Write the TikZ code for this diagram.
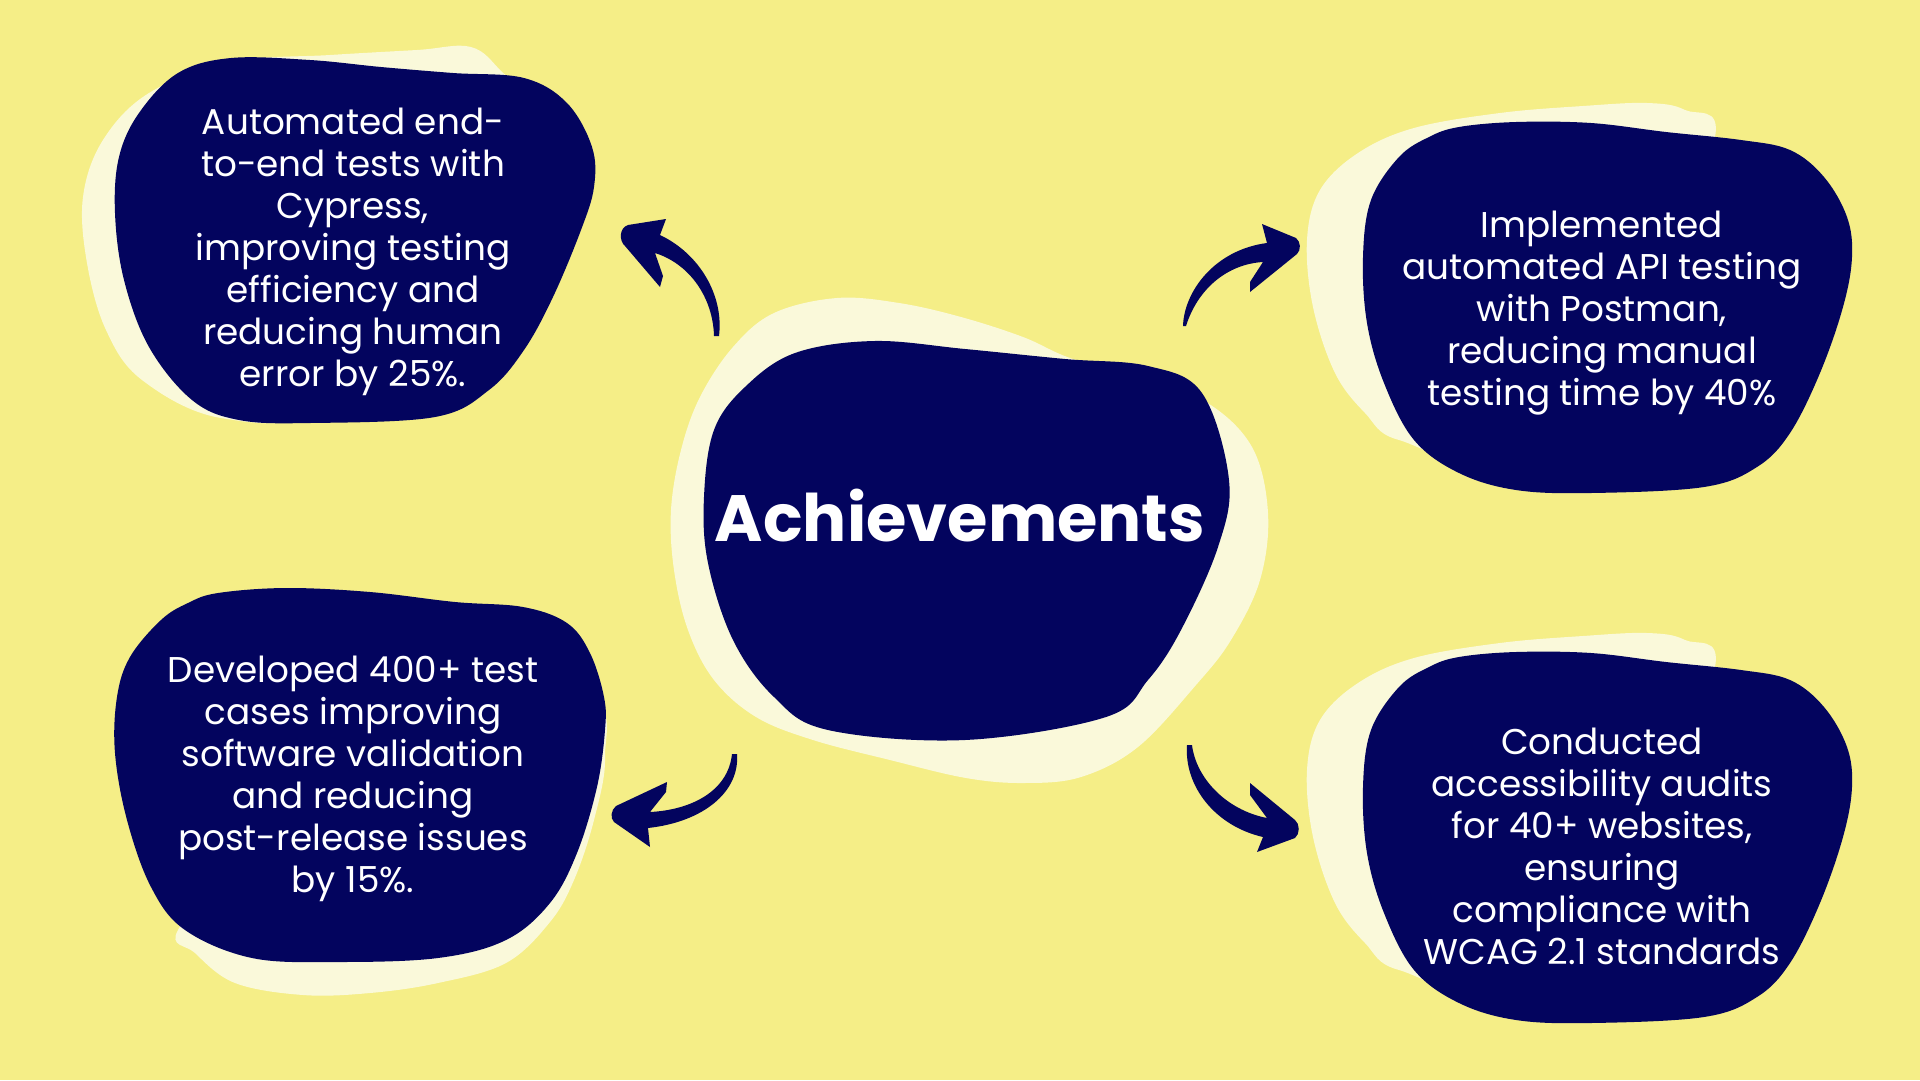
\documentclass[tikz,border=0pt]{standalone}
\usepackage{fontspec}
\setmainfont{Poppins}
\definecolor{bgyellow}{RGB}{245,238,135}
\definecolor{navy}{RGB}{3,4,94}
\definecolor{cream}{RGB}{250,249,218}
\begin{document}
\begin{tikzpicture}[x=1pt,y=-1pt,
  backdrop/.style={fill=cream},
  blob/.style={fill=navy},
  arrowshape/.style={fill=navy},
  body/.style={text=white, align=center, inner sep=0pt, font=\fontsize{35.8}{42}\selectfont},
  title/.style={text=white, inner sep=0pt, font=\fontsize{65.5}{75}\selectfont\bfseries}]

% background
\fill[bgyellow] (0,0) rectangle (1920,1080);
\useasboundingbox (0,0) rectangle (1920,1080);

% ---- centre blob ----
\fill[backdrop] plot[smooth cycle, tension=0.6] coordinates {
  (837,298) (899,303) (961,317) (1023,337) (1070,358) (1140,378) (1206,402)
  (1252,447) (1268,513) (1260,580) (1231,640) (1196,685) (1138,747) (1081,777)
  (1024,783) (966,778) (890,760) (813,740) (756,717) (714,680) (688,630)
  (674,570) (671,510) (681,450) (700,397) (733,347) (774,313)};
\fill[blob] plot[smooth cycle, tension=0.6] coordinates {
  (874,341) (965,349) (1065,359) (1148,366) (1202,393) (1229,480) (1218,547)
  (1181,630) (1148,680) (1106,717) (965,740) (828,730) (774,697) (733,640)
  (708,563) (704,497) (714,430) (745,387) (795,353)};
\node[title] (hub) at (960,516) {Achievements};

% ---- top-left blob ----
\fill[backdrop] plot[smooth cycle, tension=0.6] coordinates {
  (221,418) (142,380) (106,330) (87,263) (83,197) (103,140) (149,93) (230,62)
  (330,55) (417,50) (471,47) (503,73) (545,120) (480,300) (330,410)};
\fill[blob] plot[smooth cycle, tension=0.6] coordinates {
  (231,58) (310,60) (381,67) (453,73) (524,78) (567,103) (592,147) (594,187)
  (581,230) (553,297) (524,350) (489,390) (435,417) (310,423) (239,420)
  (192,400) (149,347) (124,280) (115,213) (119,157) (139,113) (178,73)};
\node[body] (cypress) at (353,252) {Automated end-\\to-end tests with\\Cypress,\\improving testing\\efficiency and\\reducing human\\error by 25\%.};

% ---- bottom-left blob ----
\fill[backdrop] plot[smooth cycle, tension=0.6] coordinates {
  (178,930) (195,953) (235,983) (303,995) (370,993) (438,983) (506,963)
  (550,922) (574,880) (594,820) (605,757) (590,700) (450,700) (250,850)};
\fill[blob] plot[smooth cycle, tension=0.6] coordinates {
  (218,593) (286,588) (370,592) (455,602) (523,607) (567,623) (590,653)
  (604,697) (605,730) (597,787) (577,853) (550,903) (506,940) (438,958)
  (337,962) (252,958) (185,930) (151,887) (127,820) (115,753) (117,697)
  (130,657) (161,620) (188,603)};
\node[body] (cases) at (353,779) {Developed 400+ test\\cases improving\\software validation\\and reducing\\post-release issues\\by 15\%.};

% ---- right-hand blobs share one outline ----
\foreach \dy in {0,530} {
  \begin{scope}[shift={(0,\dy)}]
    \fill[backdrop] plot[smooth cycle, tension=0.6] coordinates {
      (1399,440) (1365,413) (1335,373) (1313,307) (1307,240) (1320,190)
      (1358,153) (1414,128) (1500,113) (1583,106) (1647,103) (1685,110)
      (1715,137) (1650,300) (1500,450)};
    \fill[blob] plot[smooth cycle, tension=0.6] coordinates {
      (1459,127) (1516,122) (1591,123) (1666,132) (1741,140) (1790,150)
      (1824,177) (1847,217) (1852,257) (1843,307) (1820,373) (1790,433)
      (1757,467) (1704,487) (1591,493) (1516,490) (1459,473) (1414,440)
      (1384,383) (1367,323) (1363,257) (1371,200) (1399,157) (1429,137)};
  \end{scope}
}
\node[body] (postman) at (1602,313) {Implemented\\automated API testing\\with Postman,\\reducing manual\\testing time by 40\%};
\node[body] (wcag) at (1602,846) {Conducted\\accessibility audits\\for 40+ websites,\\ensuring\\compliance with\\WCAG 2.1 standards};

% ---- curved arrows ----
% up-left
\fill[arrowshape] (719,336) .. controls (724,296) and (700,254) .. (660,235)
  -- (666,219) -- (628,225) .. controls (619,228) and (619,241) .. (625,246)
  -- (660,287) -- (663,276) -- (655,253)
  .. controls (690,264) and (713,298) .. (714,336) -- cycle;
% up-right
\fill[arrowshape] (1183,326) .. controls (1184,292) and (1214,250) .. (1267,243)
  -- (1262,224) -- (1296,238) .. controls (1301,242) and (1301,250) .. (1297,254)
  -- (1250,292) -- (1250,282) -- (1263,262)
  .. controls (1228,264) and (1198,288) .. (1186,326) -- cycle;
% down-left
\fill[arrowshape] (737,754) .. controls (740,792) and (703,822) .. (648,828)
  -- (650,847) -- (614,822) .. controls (610,818) and (611,810) .. (616,806)
  -- (667,782) -- (666,792) -- (650,812)
  .. controls (690,810) and (728,792) .. (732,754) -- cycle;
% down-right
\fill[arrowshape] (1187,745) .. controls (1184,786) and (1215,826) .. (1263,837)
  -- (1257,852) -- (1295,838) .. controls (1300,834) and (1300,824) .. (1295,820)
  -- (1250,783) -- (1250,795) -- (1267,818)
  .. controls (1226,810) and (1196,778) .. (1192,745) -- cycle;

\end{tikzpicture}
\end{document}
